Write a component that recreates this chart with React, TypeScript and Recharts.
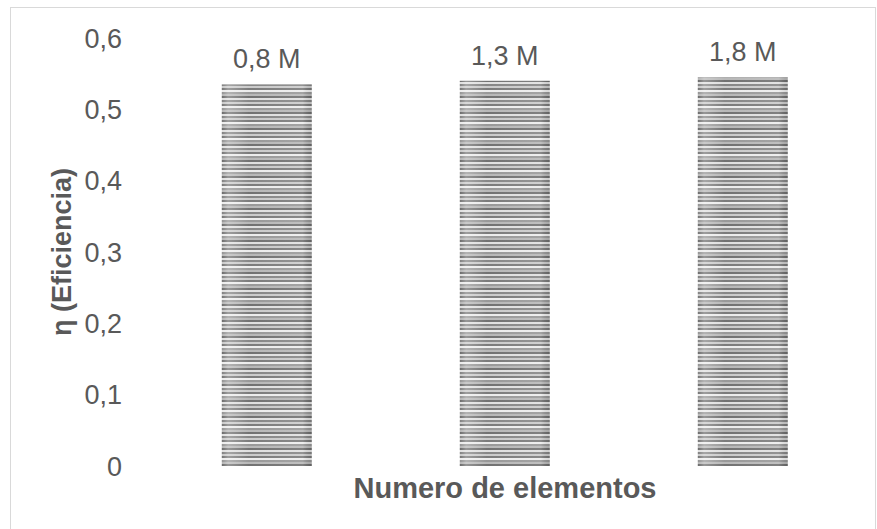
import { BarChart, Bar, XAxis, YAxis, LabelList } from "recharts";

const categories = ["0,8 M", "1,3 M", "1,8 M"];
const efficiency = [0.535, 0.54, 0.545];
const yTicks = [0, 0.1, 0.2, 0.3, 0.4, 0.5, 0.6];

const data = categories.map((name, i) => ({ name, value: efficiency[i] }));

const textColor = "#595959";
const font = "'Liberation Sans', Arial, sans-serif";

// striped bar with lighter edges, like the office "horizontal lines" fill
function StripedBar(props: any) {
  const { x, y, width, height } = props;
  if (!height || height <= 0) return null;
  return (
    <g>
      <rect x={x} y={y} width={width} height={height} fill="url(#hstripes)" />
      <rect x={x} y={y} width={width} height={height} fill="url(#edgeShade)" />
    </g>
  );
}

export default function App() {
  return (
    <div style={{ position: "absolute", left: 0, top: 0, width: 877, height: 529, background: "#fff" }}>
      <div
        style={{
          position: "absolute",
          left: 10,
          top: 7,
          width: 866,
          height: 540,
          border: "1px solid #d9d9d9",
          boxSizing: "border-box",
        }}
      />
      <BarChart
        width={877}
        height={529}
        data={data}
        margin={{ top: 38, right: 15, bottom: 0, left: 40 }}
        barCategoryGap="31%"
        style={{ position: "absolute", left: 0, top: 0, fontFamily: font }}
      >
        <defs>
          <pattern id="hstripes" patternUnits="userSpaceOnUse" width="8" height="16">
            <rect x="0" y="0" width="8" height="16" fill="#c4c4c4" />
            <rect x="0" y="0" width="8" height="2" fill="#6a6a6a" />
            <rect x="0" y="2" width="8" height="2" fill="#dedede" />
            <rect x="0" y="4" width="8" height="2" fill="#808080" />
            <rect x="0" y="6" width="8" height="2" fill="#c8c8c8" />
            <rect x="0" y="8" width="8" height="2" fill="#747474" />
            <rect x="0" y="10" width="8" height="2" fill="#ebebeb" />
            <rect x="0" y="12" width="8" height="2" fill="#939393" />
            <rect x="0" y="14" width="8" height="2" fill="#b4b4b4" />
          </pattern>
          <linearGradient id="edgeShade" x1="0" y1="0" x2="1" y2="0">
            <stop offset="0" stopColor="#ffffff" stopOpacity={0} />
            <stop offset="0.07" stopColor="#ffffff" stopOpacity={0.3} />
            <stop offset="0.3" stopColor="#ffffff" stopOpacity={0.05} />
            <stop offset="0.9" stopColor="#ffffff" stopOpacity={0.15} />
            <stop offset="1" stopColor="#000000" stopOpacity={0.08} />
          </linearGradient>
        </defs>
        <XAxis
          dataKey="name"
          tick={false}
          axisLine={false}
          tickLine={false}
          height={63}
          label={{
            value: "Numero de elementos",
            position: "insideTop",
            offset: 11,
            fill: textColor,
            fontSize: 29,
            fontWeight: "bold",
          }}
        />
        <YAxis
          domain={[0, 0.6]}
          ticks={yTicks}
          width={108}
          axisLine={false}
          tickLine={false}
          tickMargin={20}
          tick={{ fill: textColor, fontSize: 27 }}
          tickFormatter={(v: number) => String(v).replace(".", ",")}
          label={{
            value: "η (Eficiencia)",
            angle: -90,
            position: "insideLeft",
            offset: 21,
            fill: textColor,
            fontSize: 27,
            fontWeight: "bold",
            style: { textAnchor: "middle" },
          }}
        />
        <Bar dataKey="value" shape={<StripedBar />} isAnimationActive={false}>
          <LabelList dataKey="name" position="top" offset={16} fill={textColor} fontSize={27} />
        </Bar>
      </BarChart>
    </div>
  );
}
